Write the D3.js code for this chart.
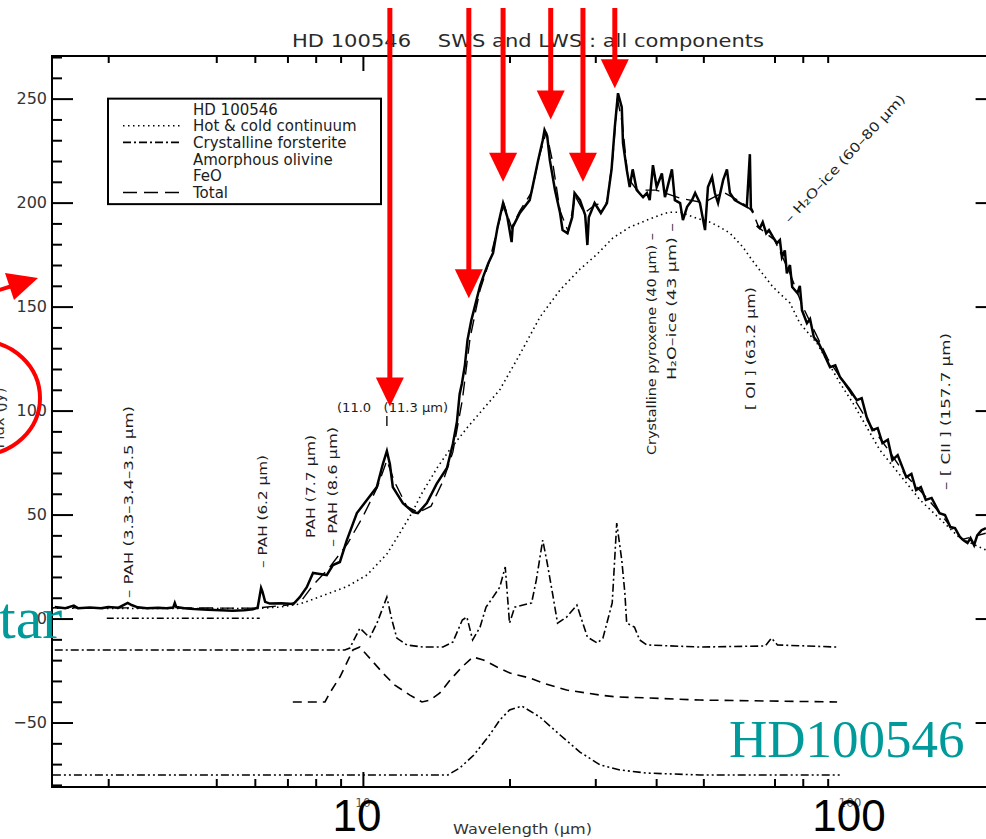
<!DOCTYPE html>
<html>
<head>
<meta charset="utf-8">
<script src="https://cdn.jsdelivr.net/npm/d3@7"></script>
<style>
  body { margin: 0; background: #fff; }
  svg { display: block; }
  text { white-space: pre; }
</style>
</head>
<body>
<svg id="chart" width="986" height="839"></svg>
<script>
// ---------- data: wavelength (micron), flux (Jy) ----------
const spectrumSWS = [
  [2.33,5.5],[2.45,5.0],[2.55,6.2],[2.6,5.0],[2.75,5.3],[2.9,5.0],[3.0,5.6],[3.15,5.2],[3.29,7.5],[3.35,6.5],
  [3.45,5.4],[3.6,5.0],[3.8,5.2],[3.95,5.0],[4.08,5.3],[4.11,7.5],[4.14,5.5],[4.3,5.0],[4.5,4.6],[4.8,4.2],
  [5.1,4.0],[5.4,3.8],[5.7,4.0],[5.95,4.5],[6.08,5.2],[6.12,9],[6.18,14.7],[6.22,13],[6.3,8],[6.44,7.2],
  [6.8,7.3],[7.2,7.0],[7.42,10.3],[7.67,15.1],[7.9,21.9],[8.1,21.5],[8.43,20.9],[8.68,25.7],[8.97,27.2],[9.27,37.7],
  [9.72,50.7],[10.19,57],[10.68,63.2],[10.99,74.3],[11.2,80.5],[11.36,74.3],[11.52,63.2],[12.08,55.5],[12.67,51.2],[12.97,50.7],
  [13.53,55.5],[14.18,64.9],[14.88,72.4],[15.3,83.9],[15.6,94.7],[15.8,108],[15.97,113],[16.2,122],[16.4,134],[16.7,143.5],
  [17.1,153],[17.4,160],[17.7,165],[18.1,171],[18.5,175.7],[18.9,188.2],[19.4,199.8],[19.8,193],[20.2,181],[20.3,188.2],
  [21.0,195],[22.0,201.2],[22.3,207.5],[22.9,220.4],[23.4,230],[23.6,234.9],[23.9,232],[24.2,220.4],[24.8,206],[25.4,195],
  [25.7,186.8],[26.3,185.3],[26.9,193],[27.2,204.6],[27.9,201.2],[28.6,194],[28.9,179.6],[29.1,193],[29.9,199.8],[30.8,195],
  [31.7,199.8],[32.4,216],[32.9,236.3],[33.4,252.6],[34.0,245.9],[34.2,228.6],[34.8,216],[35.3,207.5],[35.8,216],[36.5,206],
  [37.6,202.6],[38.3,204.6],[38.8,201.2],[39.4,218],[40.1,207.5],[41.1,214],[41.7,202.6],[43.1,216],[43.7,201.2],[44.8,199.8],
  [45.4,191.6],[46.3,198],[47.4,201.2],[48.1,204.6],[49.2,199.8],[50.4,186.8],[51.1,207.5],[52.1,212.3],[52.8,204.6],[53.6,199.8],
  [54.9,210.8],[55.9,216],[56.7,204.6],[58.0,201.2],[59.4,199.8],[61.4,198],[62.3,223.3],[62.6,197.4],[63.2,195.4]
];
const spectrumLWS = [
  [64.4,189],[65.3,187.7],[66.2,190.6],[67.3,185.3],[68.2,186.8],[69.5,183.4],[70.8,180.5],[71.8,182],[72.5,173.8],[73.5,177],
  [74.2,166],[75.3,170],[76.1,159.4],[78.0,156.5],[78.9,160],[79.7,148.3],[81.6,142],[82.8,144],[84.3,135.3],[86.2,132.5],
  [88.3,127.6],[91.0,120.9],[93.3,121.8],[95.4,116.1],[100,109.9],[103.3,105],[105.7,106],[108.2,96.9],[111.2,90.6],[114.0,91.6],
  [116.6,84.4],[119.6,86],[122.2,76.2],[125.3,78.6],[130.5,68],[133.7,69.5],[136.7,61.8],[139.8,63.2],[143.1,57],[147.1,58],
  [152.7,50.7],[156.7,49.8],[160.7,44],[164.3,43.5],[168.2,39.2],[170.8,37.7],[174.3,36.3],[176.8,38.7],[179.8,35.3],[182.5,40],
  [186.2,42.5],[190.2,43.5]
];
const continuum = [
  [2.3,5.0],[4.0,4.8],[6.0,4.8],[6.75,5.5],[7.42,7],[8.28,11],[9.3,15.5],[10.2,21],[11.2,31],[11.9,41],
  [12.6,50.7],[13.2,60],[14.2,72.4],[15.0,80.5],[15.9,88],[16.4,92],[19.1,110],[21.0,127],[23.1,145],[25.4,158],
  [27.9,168],[30.2,175],[32.6,183],[35.3,188.2],[38.3,191.6],[40.7,194],[42.5,195.4],[44.8,195.4],[48.5,192.5],[51.6,190.6],
  [54.1,188.2],[56.7,185.3],[60.3,178.6],[62.3,173.8],[65.3,167.5],[69.5,159.4],[75.3,151.7],[78.9,142],[85.5,132.5],[95.4,113.2],
  [101.4,103.6],[115.2,81],[139.3,57],[168.2,38.7],[190,33]
];
const starPhotosphere = [[2.98,0.2],[6.14,0.2]];
const forsterite = [
  [2.33,-15.1],[9.18,-15.1],[9.4,-14.2],[9.86,-4.6],[10.19,-7.9],[10.34,-8.9],[10.69,-2.2],[11.2,10.3],[11.47,-0.7],[11.74,-9.4],
  [12.31,-12.7],[13.28,-13.7],[14.6,-13.7],[15.3,-11.3],[16.0,-0.7],[16.35,0.7],[16.8,-10.3],[17.4,-4.1],[17.9,5.5],[18.5,10.3],
  [19.1,15.1],[19.6,24.8],[20.0,-2.2],[20.5,5.5],[22.2,7.5],[22.7,18.5],[23.4,37.7],[23.9,26.7],[24.5,12.3],[25.1,-2.2],
  [26.2,0.7],[27.5,6.5],[28.9,-8.9],[30.3,-11.8],[31.1,-9.4],[32.5,7.5],[33.2,45.9],[34.0,28.1],[34.5,12.3],[34.8,-2.2],
  [36.1,-4.1],[37.0,-10.3],[38.3,-12.7],[49.2,-13.7],[67,-13.2],[69,-9.4],[71,-12.7],[94,-13.7]
];
const olivine = [
  [7.18,-40.1],[8.36,-40.1],[8.55,-35.8],[8.97,-28.1],[9.18,-23.3],[9.54,-15.1],[9.86,-13.7],[10.19,-17.5],[10.99,-26.2],[11.63,-32],
  [12.49,-36.8],[13.22,-40.1],[13.73,-39.2],[14.39,-35.8],[15.1,-29.6],[15.97,-23.3],[16.83,-18.5],[17.67,-19.9],[18.85,-23.3],[20.04,-26.2],
  [22.0,-28.6],[23.4,-31],[26.2,-34.4],[30.7,-36.8],[33.2,-37.7],[38.8,-38.2],[49.2,-39.2],[94.1,-40.1]
];
const feo = [
  [2.31,-75.2],[14.95,-75.2],[15.8,-71.9],[16.9,-65.6],[18.2,-56],[19.1,-48.8],[20.0,-44],[21.2,-42.1],[23.1,-47.4],[25.4,-56],
  [27.9,-64.2],[30.7,-70.4],[33.7,-72.8],[38.3,-74.3],[49.2,-75.2],[95.4,-75.2]
];
const total = [
  [2.3,5.2],[6,5],[7,6.5],[7.5,9],[7.9,16],[8.5,24],[9.3,36],[10,49],[10.7,63],[11.2,76],
  [11.6,66],[12.3,54],[13,51],[13.8,54],[14.6,66],[15.3,80],[16,105],[16.6,135],[17.4,158],[18.2,172],
  [19,190],[19.5,199],[20.2,188],[21,196],[22.2,205],[23,222],[23.8,234],[24.5,220],[25.4,196],[26.4,186],
  [27.3,203],[28.5,195],[30,199],[31.7,200],[32.6,222],[33.3,250],[34.1,238],[35,212],[36.5,206],[40,206],
  [45,202],[50,200],[55,205],[60,200],[63,196],[65,188],[70,182],[75,167],[80,150],[90,125],
  [100,109],[110,93],[120,81],[130,69],[140,61],[150,53],[160,45],[170,38],[190,41]
];

// highlighted features (wavelength, flux at arrow tip)
const arrowWavelengths = [11.36, 16.5, 19.4, 24.3, 28.3, 32.9];
const arrowTips = [102, 154, 210, 240, 210, 255];

// tick values
const xMinorTicks = [3,5,6,7,8,9,20,30,40,50,70,80,90];
const xMajorTicks = [10];
const xTickLabels = [10, 100];
const yMajorTicks = [-50,0,50,100,150,200,250];
const yMinorTicks = d3.range(-80, 271, 10).filter(v => v % 50 !== 0);

// line identifications
const lineLabels = [
  { text: "– PAH (3.3–3.4–3.5 μm)", wl: 3.3 },
  { text: "– PAH (6.2 μm)", wl: 6.2 },
  { text: "PAH (7.7 μm)", wl: 7.7 },
  { text: "– PAH (8.6 μm)", wl: 8.6 },
  { text: "Crystalline pyroxene (40 μm) –", wl: 40 },
  { text: "H₂O–ice (43 μm) –", wl: 43 },
  { text: "[ OI ] (63.2 μm)", wl: 63.2 },
  { text: "– [ CII ] (157.7 μm)", wl: 157.7 }
];
// layout of the rotated labels: bottom end (px), length (px), x nudge
const lineLabelLayout = [
  { bottom: 598, len: 192, dx: 5 },
  { bottom: 568, len: 113, dx: 5 },
  { bottom: 538, len: 103, dx: 7 },
  { bottom: 547, len: 120, dx: 6 },
  { bottom: 455, len: 222, dx: 0 },
  { bottom: 380, len: 157, dx: 5 },
  { bottom: 410, len: 123, dx: 2 },
  { bottom: 490, len: 157, dx: 4 }
];

const legendItems = [
  { label: "HD 100546", dash: null },
  { label: "Hot & cold continuum", dash: "1.5,3.5" },
  { label: "Crystalline forsterite", dash: "8,3,2,3" },
  { label: "Amorphous olivine", dash: null },
  { label: "FeO", dash: null },
  { label: "Total", dash: "14,7" }
];

// ---------- layout ----------
const svg = d3.select("#chart");
const frame = { left: 52, top: 56, right: 996.6, bottom: 787 };
const x = d3.scaleLog().domain([2.3, 200]).range([frame.left, frame.right]);
const y = d3.scaleLinear().domain([-81, 270.5]).range([frame.bottom, frame.top]);
const ink = "#1c1c1c";
const fontUI = "'DejaVu Sans', sans-serif";

// title
svg.append("text")
  .attr("x", 292).attr("y", 47)
  .attr("font-family", fontUI).attr("font-size", 17).attr("fill", "#2a2a2a")
  .attr("textLength", 472).attr("lengthAdjust", "spacingAndGlyphs")
  .text("HD 100546    SWS and LWS : all components");

// frame
svg.append("rect")
  .attr("x", frame.left).attr("y", frame.top)
  .attr("width", frame.right - frame.left).attr("height", frame.bottom - frame.top)
  .attr("fill", "none").attr("stroke", "#000").attr("stroke-width", 2);

function styleAxis(g) {
  g.select(".domain").remove();
  g.selectAll(".tick line").attr("stroke", "#000").attr("stroke-width", 2);
  g.selectAll(".tick text").attr("font-family", fontUI).attr("font-size", 16).attr("fill", "#333");
}

// x ticks (bottom and top)
svg.append("g").attr("transform", `translate(0,${frame.bottom})`)
  .call(d3.axisBottom(x).tickValues(xMinorTicks).tickSize(-8).tickFormat("")).call(styleAxis);
svg.append("g").attr("transform", `translate(0,${frame.bottom})`)
  .call(d3.axisBottom(x).tickValues(xMajorTicks).tickSize(-15).tickFormat("")).call(styleAxis);
svg.append("g").attr("transform", `translate(0,${frame.top})`)
  .call(d3.axisTop(x).tickValues(xMinorTicks).tickSize(-7).tickFormat("")).call(styleAxis);
svg.append("g").attr("transform", `translate(0,${frame.top})`)
  .call(d3.axisTop(x).tickValues(xMajorTicks).tickSize(-15).tickFormat("")).call(styleAxis);

// y ticks (left with labels, right without)
const fmtY = d => d < 0 ? "−" + Math.abs(d) : String(d);
svg.append("g").attr("transform", `translate(${frame.left},0)`)
  .call(d3.axisLeft(y).tickValues(yMinorTicks).tickSize(-10).tickFormat("")).call(styleAxis);
svg.append("g").attr("transform", `translate(${frame.left},0)`)
  .call(d3.axisLeft(y).tickValues(yMajorTicks).tickSize(-21).tickPadding(5).tickFormat(fmtY)).call(styleAxis);
svg.append("g").attr("transform", `translate(${frame.right},0)`)
  .call(d3.axisRight(y).tickValues(yMinorTicks).tickSize(-10).tickFormat("")).call(styleAxis);
svg.append("g").attr("transform", `translate(${frame.right},0)`)
  .call(d3.axisRight(y).tickValues(yMajorTicks).tickSize(-21).tickFormat("")).call(styleAxis);

// small axis numbers and axis titles
svg.selectAll("text.xsmall").data(xTickLabels).enter().append("text")
  .attr("class", "xsmall")
  .attr("x", d => x(d)).attr("y", 807)
  .attr("text-anchor", "middle").attr("font-family", fontUI).attr("font-size", 12).attr("fill", "#555")
  .text(d => d);
svg.append("text")
  .attr("x", 453).attr("y", 834)
  .attr("font-family", fontUI).attr("font-size", 14).attr("fill", "#333")
  .attr("textLength", 139).attr("lengthAdjust", "spacingAndGlyphs")
  .text("Wavelength (μm)");
svg.append("text")
  .attr("transform", "translate(4,418) rotate(-90)")
  .attr("text-anchor", "middle")
  .attr("font-family", fontUI).attr("font-size", 15).attr("fill", "#333")
  .text("Flux (Jy)");

// ---------- curves ----------
const line = d3.line().x(d => x(d[0])).y(d => y(d[1]));
const plot = svg.append("g");
function drawCurve(data, dash, width) {
  plot.append("path").datum(data)
    .attr("d", line)
    .attr("fill", "none").attr("stroke", "#000")
    .attr("stroke-width", width)
    .attr("stroke-dasharray", dash);
}
drawCurve(feo, "8,3,2,3,2,3", 1.6);
drawCurve(olivine, "9,6", 1.6);
drawCurve(forsterite, "8,3,2,3", 1.6);
drawCurve(starPhotosphere, "7,3,2,3,2,3,2,3", 1.5);
drawCurve(continuum, "1.5,3.5", 1.6);
drawCurve(total, "14,7", 1.4);
drawCurve(spectrumSWS, null, 2.5);
drawCurve(spectrumLWS, null, 2.5);

// ---------- line identifications ----------
lineLabels.forEach((d, i) => {
  const L = lineLabelLayout[i];
  svg.append("text")
    .attr("transform", `translate(${x(d.wl) + L.dx},${L.bottom}) rotate(-90)`)
    .attr("font-family", fontUI).attr("font-size", 13).attr("fill", ink)
    .attr("textLength", L.len).attr("lengthAdjust", "spacingAndGlyphs")
    .text(d.text);
});
// 11 micron pair (horizontal) with its marker
svg.append("text")
  .attr("x", 337).attr("y", 412)
  .attr("font-family", fontUI).attr("font-size", 13).attr("fill", ink)
  .attr("textLength", 111).attr("lengthAdjust", "spacingAndGlyphs")
  .text("(11.0   (11.3 μm)");
svg.append("line")
  .attr("x1", x(11.2)).attr("x2", x(11.2)).attr("y1", 416).attr("y2", 426)
  .attr("stroke", ink).attr("stroke-width", 1.5);
// water ice band, diagonal
svg.append("text")
  .attr("transform", "translate(790,224) rotate(-47)")
  .attr("font-family", fontUI).attr("font-size", 13).attr("fill", ink)
  .attr("textLength", 170).attr("lengthAdjust", "spacingAndGlyphs")
  .text("– H₂O–ice (60–80 μm)");

// ---------- legend ----------
const legend = svg.append("g");
legend.append("rect")
  .attr("x", 108).attr("y", y(250)).attr("width", 273).attr("height", 105.5)
  .attr("fill", "#fff").attr("stroke", "#000").attr("stroke-width", 2);
legendItems.forEach((d, i) => {
  const cy = 109 + i * 16.7;
  if (d.dash) {
    legend.append("line")
      .attr("x1", 123).attr("x2", 181).attr("y1", cy).attr("y2", cy)
      .attr("stroke", "#000").attr("stroke-width", 1.6).attr("stroke-dasharray", d.dash);
  }
  legend.append("text")
    .attr("x", 193).attr("y", cy + 5.5)
    .attr("font-family", fontUI).attr("font-size", 15).attr("fill", ink)
    .text(d.label);
});

// ---------- overlays ----------
const red = "#ff0000";
const arrows = svg.append("g");
arrowWavelengths.forEach((wl, i) => {
  const ax = x(wl), tip = y(arrowTips[i]);
  arrows.append("line")
    .attr("x1", ax).attr("x2", ax).attr("y1", 8).attr("y2", tip - 26)
    .attr("stroke", red).attr("stroke-width", 5);
  arrows.append("path")
    .attr("d", `M${ax - 14},${tip - 29} L${ax + 14},${tip - 29} L${ax},${tip} Z`)
    .attr("fill", red);
});
// pointer on the left edge
arrows.append("line").attr("x1", -4).attr("y1", 291).attr("x2", 12).attr("y2", 286)
  .attr("stroke", red).attr("stroke-width", 4);
arrows.append("path").attr("d", "M5,273 L38,278 L14,300 Z").attr("fill", red);
// ring around the flux scale
svg.append("ellipse")
  .attr("cx", -20).attr("cy", 398).attr("rx", 60).attr("ry", 57)
  .attr("fill", "none").attr("stroke", red).attr("stroke-width", 4);

// teal captions
const teal = "#009a9a";
svg.append("text")
  .attr("x", -1).attr("y", 638)
  .attr("font-family", "'Liberation Serif', serif").attr("font-size", 60).attr("fill", teal)
  .text("tar");
svg.append("text")
  .attr("x", 729).attr("y", 757)
  .attr("font-family", "'Liberation Serif', serif").attr("font-size", 53).attr("fill", teal)
  .text("HD100546");

// large wavelength numbers
svg.selectAll("text.xbig").data(xTickLabels).enter().append("text")
  .attr("class", "xbig")
  .attr("x", d => x(d) - (d === 10 ? 6 : 1)).attr("y", 831)
  .attr("text-anchor", "middle")
  .attr("font-family", "'Liberation Sans', Arial, sans-serif").attr("font-size", 44).attr("fill", "#000")
  .text(d => d);
</script>
</body>
</html>
